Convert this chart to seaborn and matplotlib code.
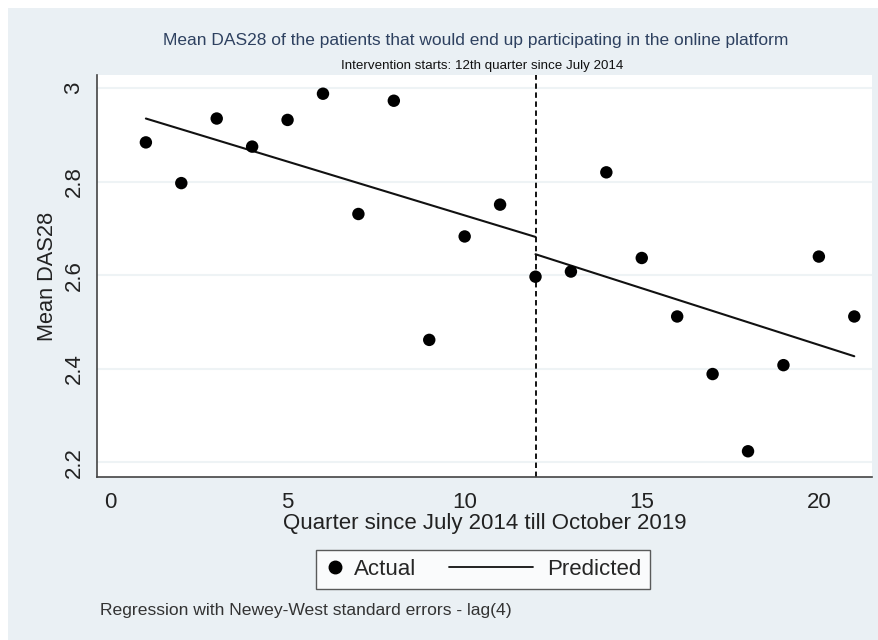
import pandas as pd
import numpy as np
import matplotlib.pyplot as plt
import seaborn as sns
from matplotlib.lines import Line2D
from matplotlib.patches import Rectangle
from matplotlib.legend_handler import HandlerBase

# values
quarter = list(range(1, 22))
actual = [2.884, 2.797, 2.935, 2.875, 2.932, 2.988, 2.731, 2.973, 2.462, 2.683, 2.751,
          2.597, 2.608, 2.820, 2.637, 2.512, 2.389, 2.224, 2.408, 2.640, 2.512]

# fitted line, before and after the intervention (endpoints)
pre_q = [1, 12]
pre_pred = [2.935, 2.682]
post_q = [12, 21]
post_pred = [2.645, 2.427]

intervention = 12
yticks = [2.2, 2.4, 2.6, 2.8, 3.0]
xticks = [0, 5, 10, 15, 20]

BG = "#eaf0f4"
GRID = "#eef3f5"


class LongLine(HandlerBase):
    """Legend line that reaches further left than the handle box."""
    def create_artists(self, legend, orig_handle, xdescent, ydescent,
                       width, height, fontsize, trans):
        y = height / 2 - ydescent
        x0 = -xdescent - 3.1 * fontsize
        x1 = -xdescent + width - 0.25 * fontsize
        line = Line2D([x0, x1], [y, y], color='#111111', lw=1.3, transform=trans)
        return [line]


sns.set_style("white")
plt.rcParams['font.family'] = ['Liberation Sans', 'DejaVu Sans']

df = pd.DataFrame({'quarter': quarter, 'actual': actual})
pre = pd.DataFrame({'quarter': pre_q, 'pred': pre_pred})
post = pd.DataFrame({'quarter': post_q, 'pred': post_pred})

fig = plt.figure(figsize=(8.79, 6.4), dpi=100)
fig.patch.set_facecolor('white')
fig.patches.append(Rectangle((8 / 879, 0), 1 - 8 / 879, 1 - 8 / 640,
                             transform=fig.transFigure, facecolor=BG,
                             edgecolor='none', zorder=-10))

ax = fig.add_axes([97 / 879, 1 - 477 / 640, (872 - 97) / 879, (477 - 75) / 640])
ax.set_facecolor('white')

for y in yticks:
    ax.axhline(y, color=GRID, lw=1.5, zorder=0)

ax.axvline(intervention, color='black', ls=(0, (3, 2)), lw=1.3, zorder=1)

sns.lineplot(data=pre, x='quarter', y='pred', color='#111111', lw=1.5, ax=ax, zorder=2)
sns.lineplot(data=post, x='quarter', y='pred', color='#111111', lw=1.5, ax=ax, zorder=2)
sns.scatterplot(data=df, x='quarter', y='actual', color='black', s=80,
                edgecolor='none', ax=ax, zorder=3)

ax.set_xlim(-0.38, 21.5)
ax.set_ylim(2.169, 3.028)
ax.set_xticks(xticks)
ax.set_yticks(yticks)
ax.set_yticklabels([f"{v:g}" for v in yticks], rotation=90, va='center')
ax.tick_params(axis='both', direction='out', length=6, width=1, color='#333333',
               labelsize=16, labelcolor='#222222', pad=3)
ax.tick_params(axis='x', pad=5)

for side in ['top', 'right']:
    ax.spines[side].set_visible(False)
for side in ['left', 'bottom']:
    ax.spines[side].set_color('#444444')
    ax.spines[side].set_linewidth(1.2)

ax.set_xlabel('Quarter since July 2014 till October 2019', fontsize=16,
              color='#222222', labelpad=0)
ax.set_ylabel('Mean DAS28', fontsize=15.7, color='#222222', labelpad=4)

fig.text(476 / 879, 1 - 41 / 640,
         'Mean DAS28 of the patients that would end up participating in the online platform',
         ha='center', va='center', fontsize=12.5, color='#2e4160')
fig.text(482 / 879, 1 - 66 / 640, 'Intervention starts: 12th quarter since July 2014',
         ha='center', va='center', fontsize=9.6, color='#111111')

handles = [Line2D([], [], marker='o', color='black', ls='none', markersize=9),
           Line2D([], [], color='black', lw=1.3)]
leg = fig.legend(handles, ['Actual', 'Predicted'], ncol=2, loc='center',
                 bbox_to_anchor=(483 / 879, 1 - 569.5 / 640), fontsize=16,
                 frameon=True, fancybox=False, edgecolor='#333333',
                 handlelength=0.9, columnspacing=4.6, handletextpad=0.4,
                 borderpad=0.4, handler_map={handles[1]: LongLine()})
leg.get_frame().set_linewidth(1.0)
leg.get_frame().set_facecolor('white')

fig.text(100 / 879, 1 - 610 / 640, 'Regression with Newey-West standard errors - lag(4)',
         ha='left', va='center', fontsize=12.6, color='#333333')

fig.savefig('out.png', dpi=100, facecolor=fig.get_facecolor())
